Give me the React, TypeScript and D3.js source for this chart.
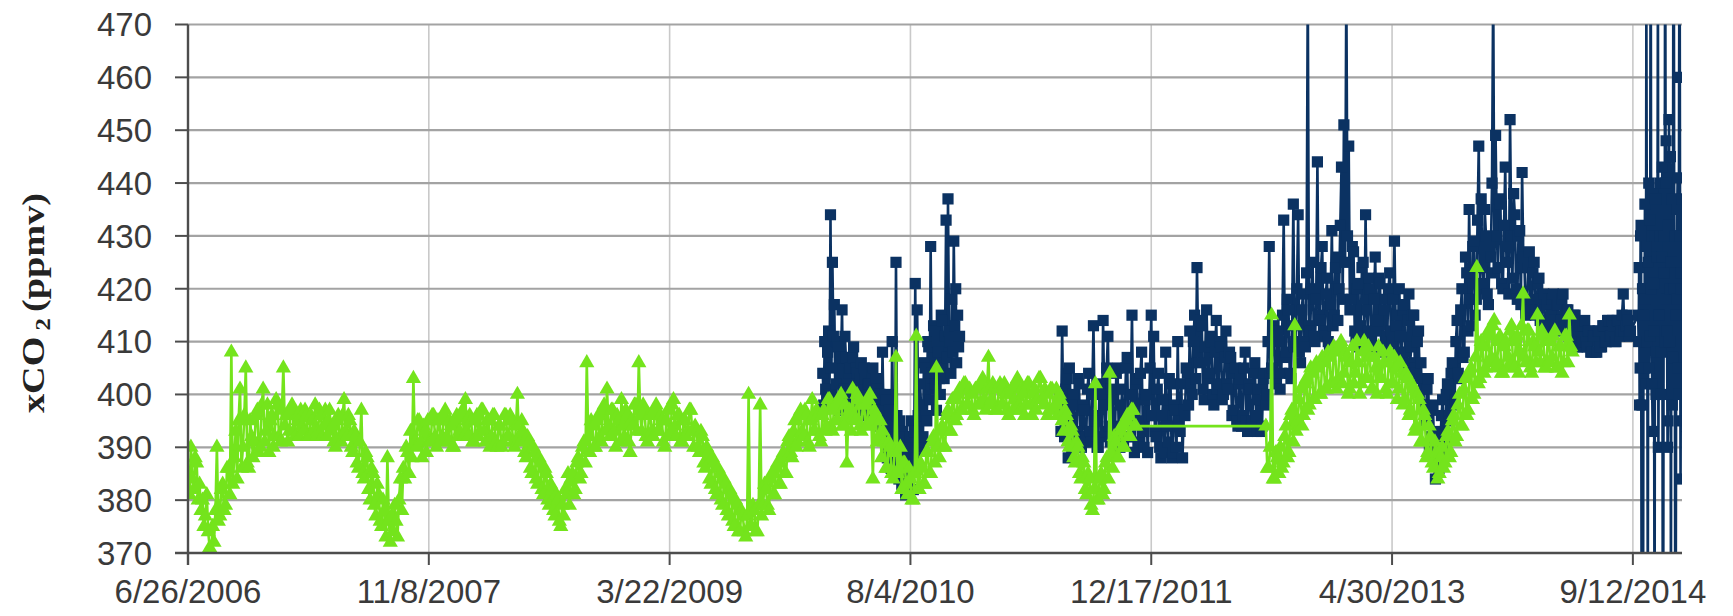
import React from "react";
import * as d3 from "d3";

// Axis extents and tick labels
const X_START = "2006-06-26";
const X_END = "2014-12-23";
const X_TICK_LABELS = ["6/26/2006", "11/8/2007", "3/22/2009", "8/4/2010", "12/17/2011", "4/30/2013", "9/12/2014"];
const Y_TICKS = [370, 380, 390, 400, 410, 420, 430, 440, 450, 460, 470];

// Surface-water series (green triangles), one sample every 3 days
const GREEN_A_START = "2006-06-26";
const GREEN_A_STEP = 3;
const GREEN_A = [
  385, 381, 390, 384, 382, 388, 387, 380, 383, 378, 380, 375, 377, 381, 374, 371, 370, 375, 372, 378,
  390, 376, 377, 382, 383, 378, 379, 386, 386, 381, 408, 383, 388, 393, 384, 395, 401, 386, 390, 396,
  405, 387, 386, 395, 392, 388, 391, 396, 397, 389, 390, 398, 401, 391, 393, 398, 389, 395, 396, 390,
  392, 399, 398, 392, 391, 397, 405, 394, 396, 391, 393, 397, 398, 393, 392, 396, 395, 392, 397, 394,
  393, 397, 396, 392, 392, 396, 395, 393, 398, 392, 393, 397, 396, 392, 394, 397, 392, 395, 397, 393,
  394, 391, 390, 395, 396, 392, 391, 396, 399, 393, 392, 396, 395, 390, 389, 393, 392, 387, 386, 391,
  397, 385, 384, 389, 388, 382, 380, 386, 385, 379, 377, 383, 381, 376, 375, 380, 378, 373, 388, 376,
  372, 377, 374, 379, 376, 373, 380, 384, 378, 386, 384, 390, 389, 385, 393, 388, 403, 391, 390, 395,
  395, 391, 388, 394, 393, 389, 395, 391, 391, 396, 396, 392, 390, 395, 395, 391, 392, 396, 397, 392,
  391, 395, 394, 390, 390, 395, 396, 392, 393, 396, 397, 392, 399, 393, 392, 396, 395, 391, 391, 395,
  396, 392, 393, 397, 397, 393, 391, 395, 395, 390, 392, 396, 396, 391, 390, 394, 394, 390, 391, 396,
  396, 392, 392, 396, 395, 391, 390, 394, 400, 392, 391, 395, 393, 389, 388, 392, 391, 386, 385, 390,
  389, 384, 383, 388, 387, 382, 381, 386, 385, 380, 379, 383, 382, 378, 377, 381, 380, 376, 375, 379,
  377, 382, 381, 385, 379, 384, 385, 381, 382, 387, 388, 384, 385, 390, 391, 387, 406, 392, 389, 395,
  394, 390, 390, 395, 396, 392, 391, 397, 398, 393, 401, 394, 392, 397, 397, 393, 390, 396, 395, 391,
  399, 394, 392, 397, 396, 391, 389, 395, 394, 398, 398, 393, 406, 396, 393, 398, 397, 392, 391, 396,
  396, 393, 392, 397, 398, 393, 393, 396, 395, 391, 390, 395, 397, 392, 393, 398, 399, 394, 392, 396,
  396, 391, 391, 395, 395, 392, 393, 397, 397, 393, 390, 394, 393, 390, 389, 393, 392, 387, 386, 390,
  389, 384, 383, 388, 387, 382, 381, 386, 385, 380, 379, 384, 383, 378, 377, 382, 381, 376, 375, 380,
  379, 374, 374, 378, 377, 374, 373, 377, 400, 375, 375, 379, 378, 374, 374, 379, 398, 377, 379, 383,
  382, 379, 378, 384, 385, 381, 381, 386, 387, 383, 383, 388, 389, 385, 385, 391, 392, 389, 388, 393,
  395, 390, 391, 396, 397, 393, 392, 397, 396, 391, 390, 395, 399, 393, 393, 397, 396, 392, 391, 396,
  397, 393, 394, 399, 399, 394, 393, 397, 398, 395, 395, 399, 400, 394, 394, 398, 387, 396, 397, 393,
  401, 396, 395, 400, 399, 394, 393, 398, 398, 394, 394, 399, 400, 395, 384, 397, 396, 391, 392, 395,
  388, 393, 391, 386, 386, 391, 390, 385, 384, 389, 407, 385, 386, 390, 382, 387, 387, 383, 381, 386,
  384, 380, 380, 385, 411, 382, 382, 387, 386, 383, 383, 389, 389, 385, 385, 391, 392, 387, 405, 390,
  388, 393, 394, 390, 390, 396, 397, 393, 393, 399, 399, 395, 396, 400, 401, 397, 397, 402, 402, 398,
  398, 401, 400, 397, 396, 401, 401, 398, 398, 402, 403, 399, 397, 401, 407, 398, 399, 402, 401, 397,
  397, 401, 402, 398, 398, 402, 400, 397, 396, 400, 401, 397, 399, 402, 403, 398, 397, 401, 400, 396,
  398, 402, 402, 398, 396, 400, 401, 397, 399, 403, 403, 399, 398, 401, 400, 396, 397, 401, 401, 397,
  398, 401, 396, 400, 399, 395, 393, 397, 396, 391, 390, 394, 393, 388, 387, 391, 390, 385, 384, 388,
  387, 382, 381, 385, 384, 379, 378, 382, 402, 380, 380, 384, 385, 381, 382, 387, 388, 384, 404, 389,
  386, 392, 391, 388, 388, 393, 394, 390, 390, 395, 396, 392, 392, 397, 397, 394, 394,
];
const GREEN_B_START = "2012-08-11";
const GREEN_B_STEP = 3;
const GREEN_B = [
  394, 386, 386, 390, 415, 384, 384, 389, 388, 385, 390, 386, 387, 392, 394, 388, 389, 396, 397, 391,
  413, 393, 395, 399, 401, 394, 396, 402, 403, 397, 398, 405, 404, 399, 399, 406, 405, 400, 400, 407,
  406, 401, 401, 408, 407, 402, 402, 409, 408, 401, 403, 409, 410, 402, 404, 408, 407, 400, 401, 406,
  409, 402, 404, 410, 406, 400, 402, 408, 410, 403, 403, 409, 407, 401, 401, 407, 405, 400, 409, 403,
  403, 408, 406, 401, 400, 406, 408, 402, 402, 407, 405, 399, 401, 406, 404, 398, 399, 404, 403, 396,
  397, 402, 401, 393, 394, 400, 399, 391, 391, 397, 396, 388, 389, 394, 392, 387, 386, 391, 389, 384,
  385, 388, 390, 386, 387, 392, 393, 388, 389, 395, 396, 391, 392, 398, 400, 394, 394, 401, 403, 396,
  397, 404, 405, 399, 400, 407, 424, 402, 403, 410, 409, 404, 405, 411, 412, 406, 407, 413, 414, 405,
  406, 410, 411, 404, 404, 409, 410, 405, 407, 412, 413, 406, 405, 410, 411, 404, 408, 413, 419, 407,
  406, 412, 412, 405, 404, 410, 409, 406, 415, 408, 406, 412, 411, 405, 405, 410, 410, 406, 407, 411,
  412, 405, 405, 409, 409, 404, 406, 411, 411, 406, 415, 409, 408,
];

// Mooring series (navy squares)
const NAVY_A_START = "2010-02-03";
const NAVY_A_STEP = 2;
const NAVY_A = [
  404, 398, 410, 401, 399, 408, 412, 400, 434, 405, 425, 411, 417, 399, 402, 410, 409, 397, 398, 407,
  416, 400, 401, 411, 407, 398, 397, 404, 405, 399, 400, 407, 409, 396, 398, 405, 404, 398, 397, 403,
  406, 397, 399, 405, 403, 396, 396, 402, 402, 397, 398, 404, 405, 396, 397, 403, 401, 394, 396, 400,
  400, 393, 408, 397, 393, 400, 399, 388, 390, 397, 396, 386, 410, 394, 392, 385, 425, 396, 388, 384,
  395, 387, 383, 393, 392, 386, 381, 390, 389, 382, 384, 392, 395, 386, 382, 393, 421, 388, 416, 396,
  390, 402, 398, 391, 392, 406, 405, 396, 395, 410, 409, 399, 428, 404, 401, 413, 412, 402, 397, 410,
  408, 403, 400, 415, 414, 405, 403, 411, 433, 407, 437, 412, 410, 404, 418, 408, 429, 413, 420, 406,
  415, 409, 411,
];
const NAVY_B_START = "2011-06-10";
const NAVY_B_STEP = 2.5;
const NAVY_B = [
  400, 393, 412, 396, 392, 401, 403, 388, 405, 395, 389, 400, 398, 391, 393, 403, 402, 392, 390, 398,
  397, 391, 392, 401, 404, 393, 391, 400, 413, 396, 395, 390, 390, 402, 400, 392, 414, 398, 393, 405,
  411, 394, 391, 401, 399, 391, 394, 404, 405, 393, 390, 398, 401, 391, 396, 405, 407, 392, 392, 400,
  415, 395, 389, 402, 403, 391, 395, 404, 408, 393, 390, 399, 400, 389, 396, 405, 415, 396, 411, 393,
  392, 401, 404, 390, 388, 396, 399, 389, 408, 394, 391, 403, 402, 388, 389, 398, 397, 390, 410, 395,
  393, 402, 388, 397, 396, 405, 404, 398, 412, 402, 400, 410, 415, 403, 424, 408, 406, 414, 413, 401,
  399, 409, 416, 403, 404, 411, 410, 400, 398, 408, 414, 401, 402, 410, 409, 399, 400, 407, 412, 402,
  401, 408, 407, 396, 397, 404, 405, 395, 394, 402, 403, 394, 396, 405, 408, 395, 393, 402, 401, 394,
  395, 404, 406, 396, 393, 401, 399, 393, 394, 403, 404, 398, 400, 410, 428, 404, 405, 411, 413, 403,
  402, 412, 410, 401, 404, 415, 433, 407, 408, 418, 416, 404, 403, 413, 436, 409, 410, 420, 434, 408,
  406, 416, 419, 410, 409, 423, 478, 413, 412, 420, 425, 411, 410, 418, 444, 415, 414, 424, 428, 412,
  411, 419, 422, 410, 409, 417, 431, 413, 415, 424, 426, 414, 420, 432, 443, 418, 451, 425, 478, 430,
  447, 416, 418, 428, 427, 412, 410, 420, 421, 409, 413, 424, 425, 411, 434, 416, 412, 422, 420, 410,
  409, 418, 426, 412, 414, 422, 421, 409, 408, 416, 418, 410, 411, 420, 423, 412, 410, 418, 429, 413,
  415, 408, 420, 411, 407, 416, 417, 408, 405, 414, 419, 406, 409, 415, 415, 405, 404, 410, 412, 403,
  406, 398, 401, 395, 396, 401, 403, 390, 392, 397, 398, 388, 384, 391, 393, 386, 389, 396, 399, 390,
  391, 400, 402, 396, 395, 404, 406, 398, 399, 410, 414, 404, 403, 416, 420, 407, 408, 426, 423, 412,
  435, 418, 413, 428, 429, 415, 418, 433, 447, 420, 437, 424, 421, 435, 430, 419, 417, 428, 426, 440,
  478, 423, 449, 430, 424, 437, 436, 421, 420, 432, 443, 425, 428, 419, 452, 430, 422, 438, 434, 420,
  418, 430, 431, 417, 442, 426, 424, 415, 416, 424, 427, 416, 418, 423, 425, 415, 416, 421, 422, 414,
  414, 418, 419, 412, 413, 417, 418, 413, 415, 418, 419, 414, 413, 417, 417, 412, 414, 418, 419, 413,
  413, 416, 416, 411, 414, 410, 411, 415, 415, 410, 409, 412, 413, 409, 410, 413, 414, 410, 409, 412,
  412, 408, 408, 411, 411, 408, 408, 412, 412, 409, 409, 413, 413, 410, 410, 414, 414, 411, 411, 414,
  413, 410, 410, 414, 414, 411, 412, 415, 419, 412, 413, 415, 414, 411, 412,
];
const NAVY_C_START = "2014-09-23";
const NAVY_C_STEP = 1;
const NAVY_C = [
  415, 410, 424, 398, 405, 430, 432, 365, 398, 420, 340, 415, 420, 405, 436, 418, 402, 475, 428, 410,
  360, 425, 440, 405, 411, 433, 500, 420, 430, 402, 393, 438, 421, 412, 345, 430, 437, 400, 408, 428,
  426, 480, 390, 415, 415, 440, 430, 408, 400, 426, 443, 360, 350, 430, 423, 410, 505, 440, 448, 418,
  412, 390, 395, 432, 452, 410, 420, 445, 360, 425, 437, 398, 407, 485, 490, 420, 430, 350, 355, 415,
  418, 435, 441, 405, 400, 460, 495, 430, 384, 420, 423, 395, 437,
];

const NAVY = "#0b3262";
const GREEN = "#74e41c";
const DAY_MS = 86400000;

type Pt = { date: Date; value: number };
const parseDay = d3.utcParse("%Y-%m-%d");
const parseTick = d3.utcParse("%m/%d/%Y");

function expand(start: string, step: number, values: number[]): Pt[] {
  const t0 = (parseDay(start) as Date).getTime();
  return values.map((v, i) => ({ date: new Date(t0 + i * step * DAY_MS), value: v }));
}

export default function App() {
  const W = 1733;
  const H = 616;
  const left = 188;
  const right = 1682;
  const top = 24.5;
  const bottom = 553;

  const x = d3.scaleUtc().domain([parseDay(X_START) as Date, parseDay(X_END) as Date]).range([left, right]);
  const y = d3.scaleLinear().domain([370, 470]).range([bottom, top]);

  const green = [...expand(GREEN_A_START, GREEN_A_STEP, GREEN_A), ...expand(GREEN_B_START, GREEN_B_STEP, GREEN_B)];
  const navy1 = expand(NAVY_A_START, NAVY_A_STEP, NAVY_A);
  const navy2 = [...expand(NAVY_B_START, NAVY_B_STEP, NAVY_B), ...expand(NAVY_C_START, NAVY_C_STEP, NAVY_C)];

  const line = d3.line<Pt>().x((d) => x(d.date)).y((d) => y(d.value));
  const square = d3.symbol(d3.symbolSquare, 125)() as string;
  const triangle = d3.symbol(d3.symbolTriangle, 100)() as string;

  const xTicks = X_TICK_LABELS.map((s) => ({ label: s, px: x(parseTick(s) as Date) }));
  const font = "'Liberation Sans', Arial, Helvetica, sans-serif";

  return (
    <svg width={W} height={H} style={{ position: "absolute", left: 0, top: 0, background: "#fff" }}>
      <defs>
        <clipPath id="plot-clip">
          <rect x={left} y={top} width={right - left} height={bottom - top} />
        </clipPath>
      </defs>

      {/* vertical grid */}
      {xTicks.slice(1).map((t) => (
        <line key={"vg" + t.label} x1={t.px} x2={t.px} y1={top} y2={bottom} stroke="#c9c9c9" strokeWidth={1.6} />
      ))}
      {/* horizontal grid */}
      {Y_TICKS.map((v) => (
        <line key={"hg" + v} x1={left} x2={right} y1={y(v)} y2={y(v)} stroke="#a3a3a3" strokeWidth={2.2} />
      ))}

      <g clipPath="url(#plot-clip)">
        {[navy1, navy2].map((seg, k) => (
          <path key={"nl" + k} d={line(seg) as string} fill="none" stroke={NAVY} strokeWidth={2.6} />
        ))}
        {[...navy1, ...navy2].map((d, i) => (
          <path key={"nm" + i} d={square} transform={`translate(${x(d.date)},${y(d.value)})`} fill={NAVY} />
        ))}
        <path d={line(green) as string} fill="none" stroke={GREEN} strokeWidth={2.6} />
        {green.map((d, i) => (
          <path key={"gm" + i} d={triangle} transform={`translate(${x(d.date)},${y(d.value)})`} fill={GREEN} />
        ))}
      </g>

      {/* axes */}
      <line x1={left} x2={left} y1={top} y2={bottom + 12} stroke="#4d4d4d" strokeWidth={2.4} />
      <line x1={left - 13} x2={right} y1={bottom} y2={bottom} stroke="#4d4d4d" strokeWidth={2.4} />
      {Y_TICKS.map((v) => (
        <line key={"yt" + v} x1={left - 13} x2={left} y1={y(v)} y2={y(v)} stroke="#4d4d4d" strokeWidth={2} />
      ))}
      {xTicks.map((t) => (
        <line key={"xt" + t.label} x1={t.px} x2={t.px} y1={bottom} y2={bottom + 12} stroke="#4d4d4d" strokeWidth={2} />
      ))}

      {/* tick labels */}
      {Y_TICKS.map((v) => (
        <text key={"yl" + v} x={152} y={y(v)} dy="0.36em" textAnchor="end" fontFamily={font} fontSize={33} fill="#3a3a3a">
          {v}
        </text>
      ))}
      {xTicks.map((t) => (
        <text key={"xl" + t.label} x={t.px} y={603} textAnchor="middle" fontFamily={font} fontSize={33} fill="#3a3a3a">
          {t.label}
        </text>
      ))}

      {/* y-axis title */}
      <text
        transform="translate(44,303) rotate(-90)"
        textAnchor="middle"
        fontFamily="'Liberation Serif', 'Times New Roman', serif"
        fontWeight="bold"
        fontSize={31}
        fill="#222"
        textLength={220}
        lengthAdjust="spacingAndGlyphs"
      >
        xCO
        <tspan fontSize={20} dy={6}> 2 </tspan>
        <tspan dy={-6}>(ppmv)</tspan>
      </text>
    </svg>
  );
}
